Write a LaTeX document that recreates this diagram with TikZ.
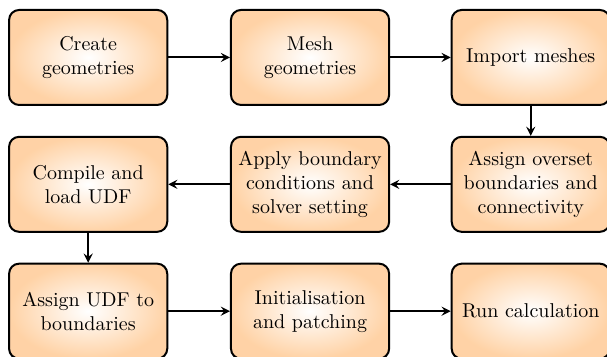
\documentclass[tikz,border=0pt]{standalone}
\usepackage{amsmath}
\usepackage{amssymb}
\usepackage{tikz}

\begin{document}
\begin{tikzpicture}
[every node/.style={rectangle,draw,line width=1pt,rounded corners=5pt,inner color=white,outer color=orange!35,minimum width=2.78cm,minimum height=1.67cm,align=center}]
\useasboundingbox (0,0) rectangle (10.67,-6.26);
\node (n1) at (1.55,-1.01) {Create\\geometries};
\node (n2) at (5.45,-1.01) {Mesh\\geometries};
\node (n3) at (9.33,-1.01) {Import meshes};

\node (n4) at (9.33,-3.24) {Assign overset\\boundaries and\\connectivity};
\node (n5) at (5.45,-3.24) {Apply boundary\\conditions and\\solver setting};
\node (n6) at (1.55,-3.24) {Compile and\\load UDF};

\node (n7) at (1.55,-5.47) {Assign UDF to\\boundaries};
\node (n8) at (5.45,-5.47) {Initialisation\\and patching};
\node (n9) at (9.33,-5.47) {Run calculation};

\foreach \from/\to in {n1/n2,n2/n3,n3/n4,n4/n5,n5/n6,n6/n7,n7/n8,n8/n9}
	\draw[-stealth,line width=1pt] (\from) -- (\to);

\end{tikzpicture}
\end{document}
